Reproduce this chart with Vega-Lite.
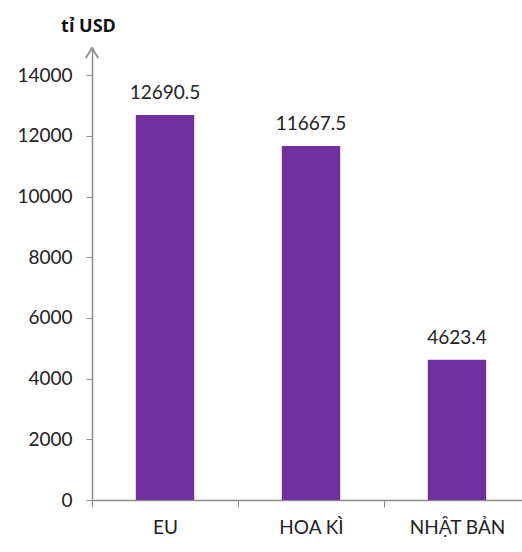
{
  "$schema": "https://vega.github.io/schema/vega-lite/v6.json",
  "autosize": "none",
  "width": 438,
  "height": 452,
  "padding": {"left": 92, "top": 48, "right": 0, "bottom": 52},
  "background": "white",
  "config": {
    "font": "Lato",
    "view": {"stroke": null}
  },
  "data": {
    "values": [
      {"region": "EU", "value": 12690.5, "label": "12690.5"},
      {"region": "HOA KÌ", "value": 11667.5, "label": "11667.5"},
      {"region": "NHẬT BẢN", "value": 4623.4, "label": "4623.4"}
    ]
  },
  "encoding": {
    "x": {
      "field": "region",
      "type": "nominal",
      "sort": null,
      "scale": {"paddingInner": 0, "paddingOuter": 0},
      "axis": {
        "title": null,
        "labelAngle": 0,
        "labelFont": "Lato",
        "labelFontSize": 19,
        "labelColor": "#222222",
        "labelPadding": 11,
        "tickBand": "extent",
        "tickSize": 7,
        "tickColor": "#8c8c8c",
        "domainColor": "#8c8c8c",
        "domainWidth": 1.5,
        "grid": false
      }
    }
  },
  "layer": [
    {
      "mark": {"type": "bar", "color": "#7030A0", "width": {"band": 0.4}},
      "encoding": {
        "y": {
          "field": "value",
          "type": "quantitative",
          "scale": {"domain": [0, 14900], "nice": false},
          "axis": {
            "values": [0, 2000, 4000, 6000, 8000, 10000, 12000, 14000],
            "format": "d",
            "title": "tỉ USD",
            "titleAngle": 0,
            "titleAlign": "center",
            "titleBaseline": "alphabetic",
            "titleX": -4,
            "titleY": -17,
            "titleFont": "Open Sans",
            "titleFontSize": 18,
            "titleFontWeight": "bold",
            "titleColor": "#111111",
            "labelFont": "Lato",
            "labelFontSize": 19,
            "labelColor": "#222222",
            "labelPadding": 14,
            "tickSize": 6,
            "tickColor": "#8c8c8c",
            "domainColor": "#8c8c8c",
            "domainWidth": 1.5,
            "grid": false
          }
        }
      }
    },
    {
      "mark": {"type": "text", "baseline": "bottom", "dy": -12, "fontSize": 19, "font": "Lato", "color": "#222222"},
      "encoding": {
        "y": {"field": "value", "type": "quantitative"},
        "text": {"field": "label"}
      }
    },
    {
      "mark": {
        "type": "point",
        "shape": "M-1,1.6L0,0L1,1.6",
        "size": 150,
        "filled": false,
        "stroke": "#8c8c8c",
        "strokeWidth": 1.5,
        "clip": false
      },
      "encoding": {
        "x": {"value": 0},
        "y": {"datum": 14900, "type": "quantitative"}
      }
    }
  ]
}
